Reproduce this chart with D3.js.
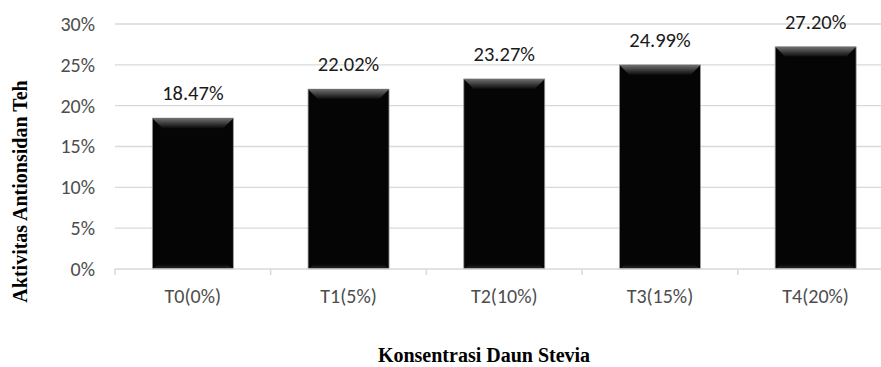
<!DOCTYPE html>
<html>
<head>
<meta charset="utf-8">
<script src="https://cdn.jsdelivr.net/npm/d3@7"></script>
<style>
  html, body { margin: 0; padding: 0; background: #fff; }
  svg { display: block; }
</style>
</head>
<body>
<svg id="chart" width="881" height="367"></svg>
<script>
// Antioxidant activity of tea by stevia leaf concentration
const categories = ["T0(0%)", "T1(5%)", "T2(10%)", "T3(15%)", "T4(20%)"];
const values = [18.47, 22.02, 23.27, 24.99, 27.20];
const valueLabels = ["18.47%", "22.02%", "23.27%", "24.99%", "27.20%"];
const yTicks = [0, 5, 10, 15, 20, 25, 30];

const svg = d3.select("#chart");
const plotLeft = 115, plotRight = 893.5, plotTop = 24, plotBottom = 269;

const x = d3.scaleBand().domain(categories).range([plotLeft, plotRight]).paddingInner(0.48).paddingOuter(0.24);
const xOuter = d3.scaleBand().domain(categories).range([plotLeft, plotRight]);
const y = d3.scaleLinear().domain([0, 30]).range([plotBottom, plotTop]);

const sans = "Calibri, Carlito, 'Open Sans', sans-serif";
const serif = "'Liberation Serif', 'Times New Roman', serif";

// gradients for bevel edges
const defs = svg.append("defs");
const gTop = defs.append("linearGradient").attr("id", "bevelTop").attr("x1", 0).attr("y1", 0).attr("x2", 0).attr("y2", 1);
gTop.append("stop").attr("offset", "0%").attr("stop-color", "#707070");
gTop.append("stop").attr("offset", "100%").attr("stop-color", "#0a0a0a");
const gBot = defs.append("linearGradient").attr("id", "bevelBot").attr("x1", 0).attr("y1", 1).attr("x2", 0).attr("y2", 0);
gBot.append("stop").attr("offset", "0%").attr("stop-color", "#2a2a2a");
gBot.append("stop").attr("offset", "100%").attr("stop-color", "#050505");

// gridlines
svg.append("g").selectAll("line").data(yTicks.filter(d => d > 0)).join("line")
  .attr("x1", plotLeft).attr("x2", 881)
  .attr("y1", d => y(d)).attr("y2", d => y(d))
  .attr("stroke", "#d9d9d9").attr("stroke-width", 1.3);

// y-axis labels
const yAxis = d3.axisLeft(y).tickValues(yTicks).tickFormat(d => d + "%").tickSize(0).tickPadding(0);
const yg = svg.append("g").attr("transform", `translate(${plotLeft - 20},0)`).call(yAxis);
yg.select(".domain").remove();
yg.selectAll("text").attr("font-family", sans).attr("font-size", 20).attr("fill", "#4d4d4d");

// bars
const bw = x.bandwidth(), bev = 10;
const bars = svg.append("g").selectAll("g").data(values).join("g")
  .attr("transform", (d, i) => `translate(${x(categories[i])},0)`);
bars.append("rect")
  .attr("x", 0).attr("width", bw)
  .attr("y", d => y(d)).attr("height", d => y(0) - y(d))
  .attr("fill", "#050505").attr("stroke", "#9a9a9a").attr("stroke-width", 0.8);
bars.append("path")
  .attr("d", d => `M0,${y(d)}L${bw},${y(d)}L${bw - bev},${y(d) + bev}L${bev},${y(d) + bev}Z`)
  .attr("fill", "url(#bevelTop)");
bars.append("path")
  .attr("d", `M0,${y(0)}L${bw},${y(0)}L${bw - 6},${y(0) - 5}L6,${y(0) - 5}Z`)
  .attr("fill", "url(#bevelBot)");

// value labels
svg.append("g").selectAll("text").data(values).join("text")
  .attr("x", (d, i) => x(categories[i]) + bw / 2)
  .attr("y", d => y(d) - 18)
  .attr("text-anchor", "middle")
  .attr("font-family", sans).attr("font-size", 20.5).attr("fill", "#1a1a1a")
  .text((d, i) => valueLabels[i]);

// x-axis line and category ticks
svg.append("line").attr("x1", plotLeft).attr("x2", 881).attr("y1", plotBottom).attr("y2", plotBottom)
  .attr("stroke", "#d9d9d9").attr("stroke-width", 1.5);
svg.append("g").selectAll("line").data(categories).join("line")
  .attr("x1", d => xOuter(d)).attr("x2", d => xOuter(d))
  .attr("y1", plotBottom).attr("y2", plotBottom + 6)
  .attr("stroke", "#d9d9d9").attr("stroke-width", 1.5);

// category labels
svg.append("g").selectAll("text").data(categories).join("text")
  .attr("x", d => x(d) + bw / 2).attr("y", 303)
  .attr("text-anchor", "middle")
  .attr("font-family", sans).attr("font-size", 20).attr("fill", "#4d4d4d")
  .text(d => d);

// axis titles
svg.append("text").attr("x", 484).attr("y", 362).attr("text-anchor", "middle")
  .attr("font-family", serif).attr("font-weight", "bold").attr("font-size", 20).attr("fill", "#000")
  .text("Konsentrasi Daun Stevia");
svg.append("text").attr("transform", "translate(27,191.5) rotate(-90)").attr("text-anchor", "middle")
  .attr("font-family", serif).attr("font-weight", "bold").attr("font-size", 20).attr("fill", "#000")
  .text("Aktivitas Antionsidan Teh");
</script>
</body>
</html>
